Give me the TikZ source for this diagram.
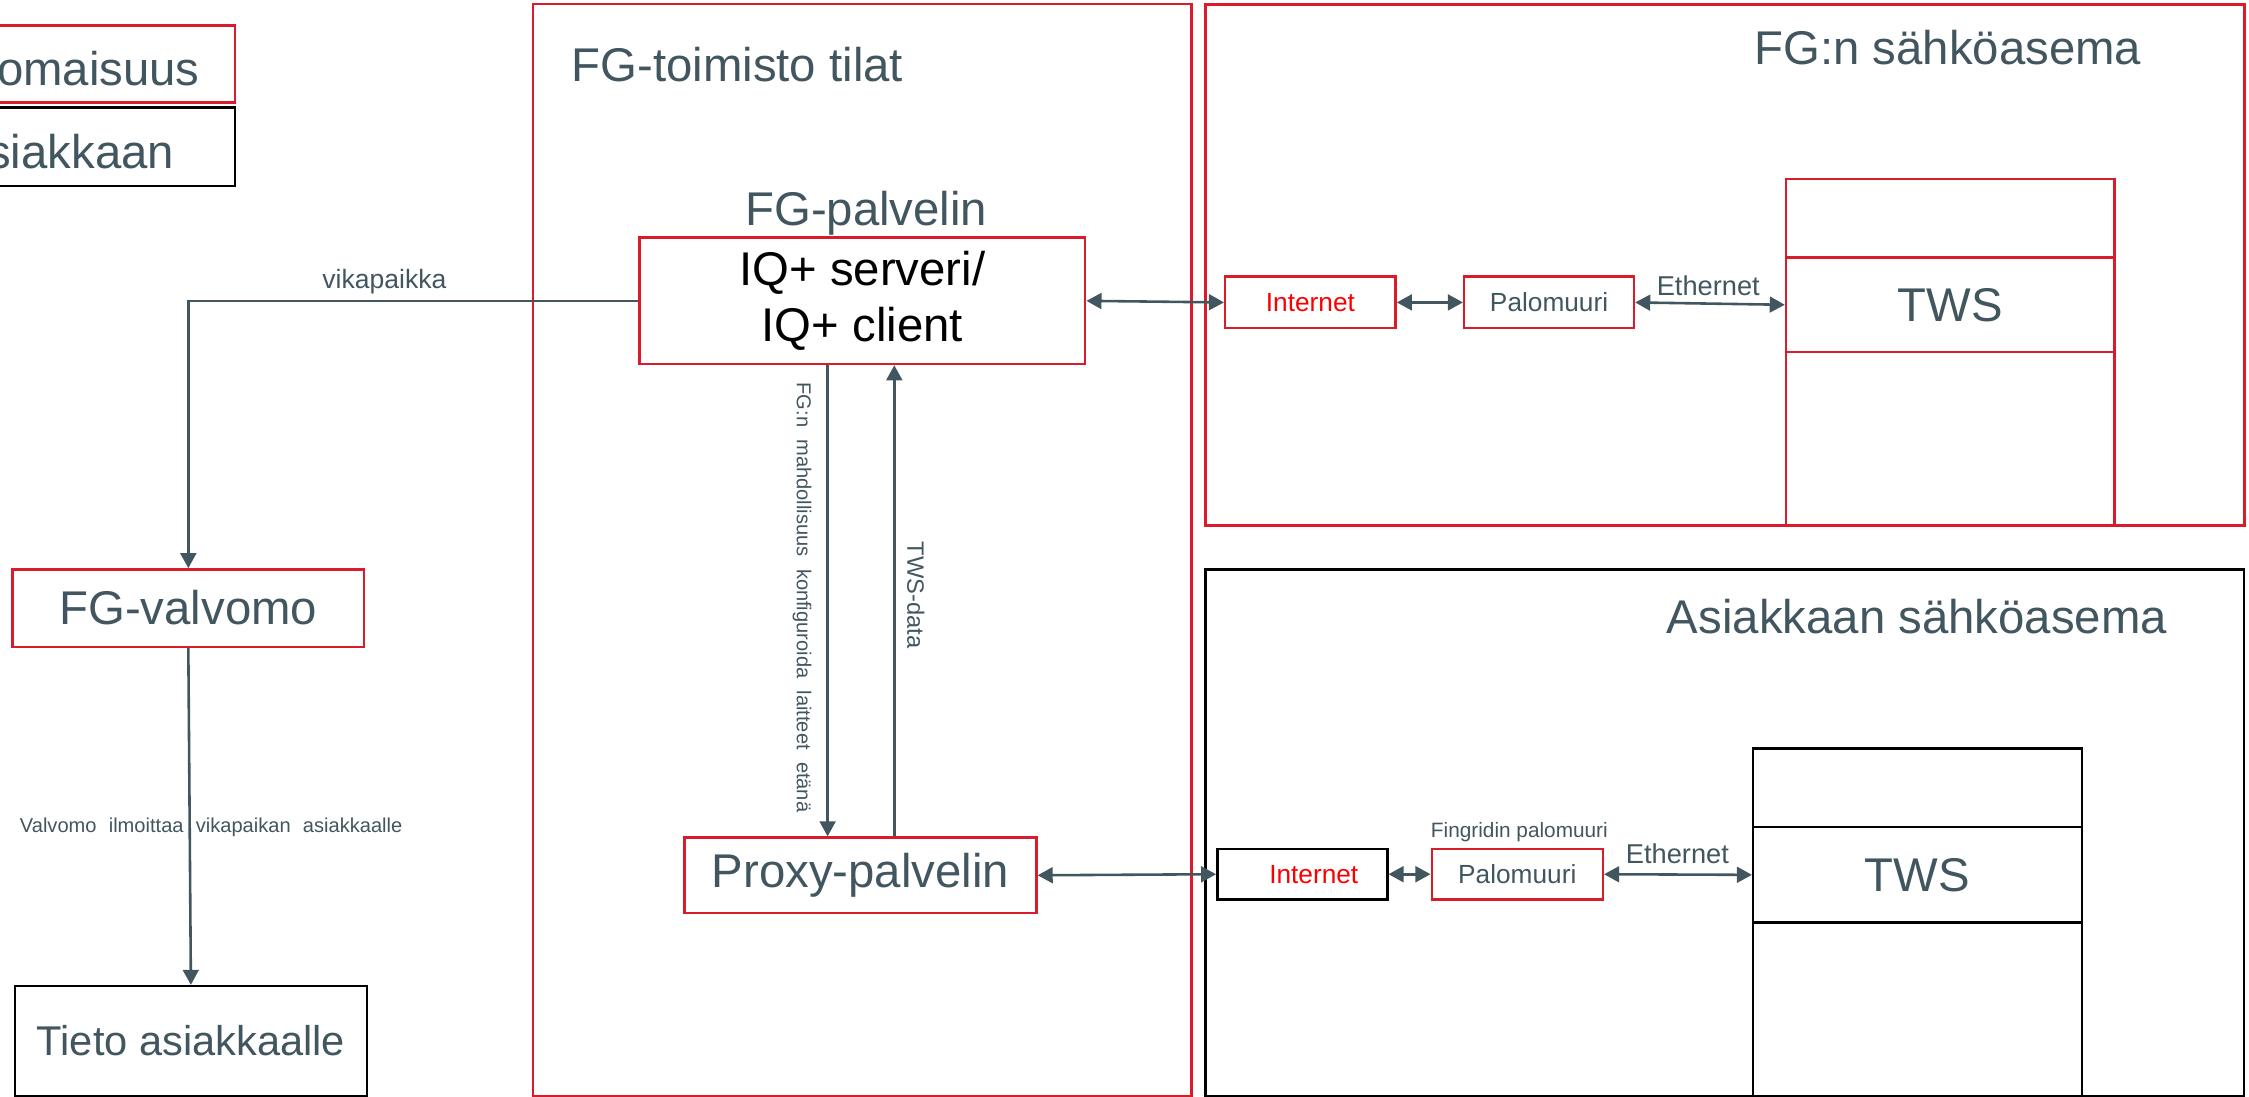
\documentclass[tikz,border=0pt]{standalone}
\usepackage{fontspec}
\setmainfont{Liberation Sans}
\newfontfamily\widefont[WordSpace=2.2]{Liberation Sans}
\usetikzlibrary{arrows.meta}
\definecolor{slate}{RGB}{66,86,96}
\definecolor{fgred}{RGB}{218,28,42}
\definecolor{netred}{RGB}{250,0,0}
\newcommand\fs[1]{\fontsize{#1}{#1}\selectfont}
\tikzset{
  frame/.style={line width=1.7pt, inner sep=0pt, text=slate, font=\fs{33}},
  redbox/.style={frame, draw=fgred},
  blkbox/.style={frame, draw=black},
  lbl/.style={inner sep=0pt, text=slate},
  link/.style={draw=slate, line width=1.8pt},
  tip/.style={-{Triangle[length=10.5pt,width=11pt]}},
  both/.style={{Triangle[length=10.5pt,width=11pt]}-{Triangle[length=10.5pt,width=11pt]}},
}
\begin{document}
\begin{tikzpicture}[x=1pt,y=-1pt]
\useasboundingbox (0,0) rectangle (1568,764.8);
\clip (0,0) rectangle (1568,764.8);

% legend
\node[redbox, minimum width=174pt, minimum height=53.7pt] (legown) at (77,44.75) {};
\node[blkbox, minimum width=174pt, minimum height=54.7pt] (legcust) at (77,102.15) {};
\node[lbl, anchor=base east, font=\fs{33}] (legownt) at (139.4,59.3) {omaisuus};
\node[lbl, anchor=base east, font=\fs{33}] (legcustt) at (121.6,117.4) {siakkaan};

% areas
\node[redbox, minimum width=459.1pt, minimum height=761.2pt] (office) at (601.05,383.4) {};
\node[redbox, minimum width=724.2pt, minimum height=363.3pt] (fgst) at (1202.7,184.65) {};
\node[blkbox, minimum width=723.9pt, minimum height=367pt] (custst) at (1202.55,580.5) {};
\node[lbl, anchor=base west, font=\fs{33}] (officet) at (398.4,57) {FG-toimisto tilat};
\node[lbl, anchor=base west, font=\fs{33}] (fgstt) at (1223,44.8) {FG:n sähköasema};
\node[lbl, anchor=base west, font=\fs{33}] (custstt) at (1162,442) {Asiakkaan sähköasema};

% office servers
\node[lbl, anchor=base, font=\fs{33}] (srvt) at (604,157) {FG-palvelin};
\node[redbox, text=black, align=center, font=\fontsize{33}{39.5}\selectfont,
      minimum width=310.9pt, minimum height=88.1pt] (iq) at (601.15,209.75) {IQ+ serveri/\\IQ+ client};
\node[redbox, minimum width=245.5pt, minimum height=52.5pt] (proxy) at (599.85,610.25) {Proxy-palvelin};

% monitoring
\node[redbox, minimum width=245pt, minimum height=53.9pt] (valvomo) at (131.3,423.95) {FG-valvomo};
\node[blkbox, font=\fs{29}, minimum width=245.2pt, minimum height=76.5pt] (tieto) at (133.1,725.75) {Tieto asiakkaalle};

% FG substation
\node[redbox, text=netred, font=\fs{18.3}, minimum width=118.8pt, minimum height=35.9pt] (inet1) at (913.6,210.85) {Internet};
\node[redbox, font=\fs{18.3}, minimum width=118.4pt, minimum height=35.9pt] (fw1) at (1080,210.85) {Palomuuri};
\node[redbox, minimum width=228.9pt, minimum height=54.6pt] (tws1a) at (1359.65,152.1) {};
\node[redbox, minimum width=228.9pt, minimum height=66.2pt] (tws1) at (1359.65,212.5) {TWS};
\node[redbox, minimum width=228.9pt, minimum height=120.9pt] (tws1c) at (1359.65,306.05) {};

% customer substation
\node[blkbox, text=netred, font=\fs{18.3}, text width=118.5pt, align=center, minimum width=118.5pt, minimum height=35pt] (inet2) at (907.95,609.5) {\hspace*{16pt}Internet};
\node[redbox, font=\fs{18.3}, minimum width=119.3pt, minimum height=35pt] (fw2) at (1057.85,609.5) {Palomuuri};
\node[lbl, anchor=base, font=\fs{14.5}] (fw2t) at (1059.3,583.8) {Fingridin palomuuri};
\node[blkbox, minimum width=229.1pt, minimum height=54.9pt] (tws2a) at (1336.85,549.15) {};
\node[blkbox, minimum width=229.1pt, minimum height=66.7pt] (tws2) at (1336.85,609.95) {TWS};
\node[blkbox, minimum width=229.1pt, minimum height=120.7pt] (tws2c) at (1336.85,703.65) {};

% connectors
\draw[link,tip] (iq.west) -| (valvomo.north);
\node[lbl, anchor=base, font=\fs{18.5}] (vikat) at (268,201) {vikapaikka};
\draw[link,tip] (valvomo.south) -- (tieto.north);
\node[lbl, anchor=base west, font=\widefont\fs{14}] (ilmt) at (13.7,580.6) {Valvomo ilmoittaa vikapaikan asiakkaalle};

\coordinate (cfgx) at (577,0);
\coordinate (datx) at (623.5,0);
\draw[link,tip] (cfgx |- iq.south) -- (cfgx |- proxy.north);
\node[lbl, rotate=-90, font=\widefont\fs{14}] (cfgt) at (559.2,416.6) {FG:n mahdollisuus konfiguroida laitteet etänä};
\draw[link,tip] (datx |- proxy.north) -- (datx |- iq.south);
\node[lbl, rotate=-90, font=\fs{16.5}] (datat) at (638.5,414.85) {TWS-data};

\draw[link,both] (iq.east) -- (inet1.west);
\draw[link,both] (inet1.east) -- (fw1.west);
\draw[link,both] (fw1.east) -- (tws1.west);
\node[lbl, anchor=base, font=\fs{19}] (eth1) at (1191,205.7) {Ethernet};

\draw[link,both] (proxy.east) -- (inet2.west);
\draw[link,both] (inet2.east) -- (fw2.west);
\draw[link,both] (fw2.east) -- (tws2.west);
\node[lbl, anchor=base, font=\fs{19}] (eth2) at (1169.5,602) {Ethernet};
\end{tikzpicture}
\end{document}
